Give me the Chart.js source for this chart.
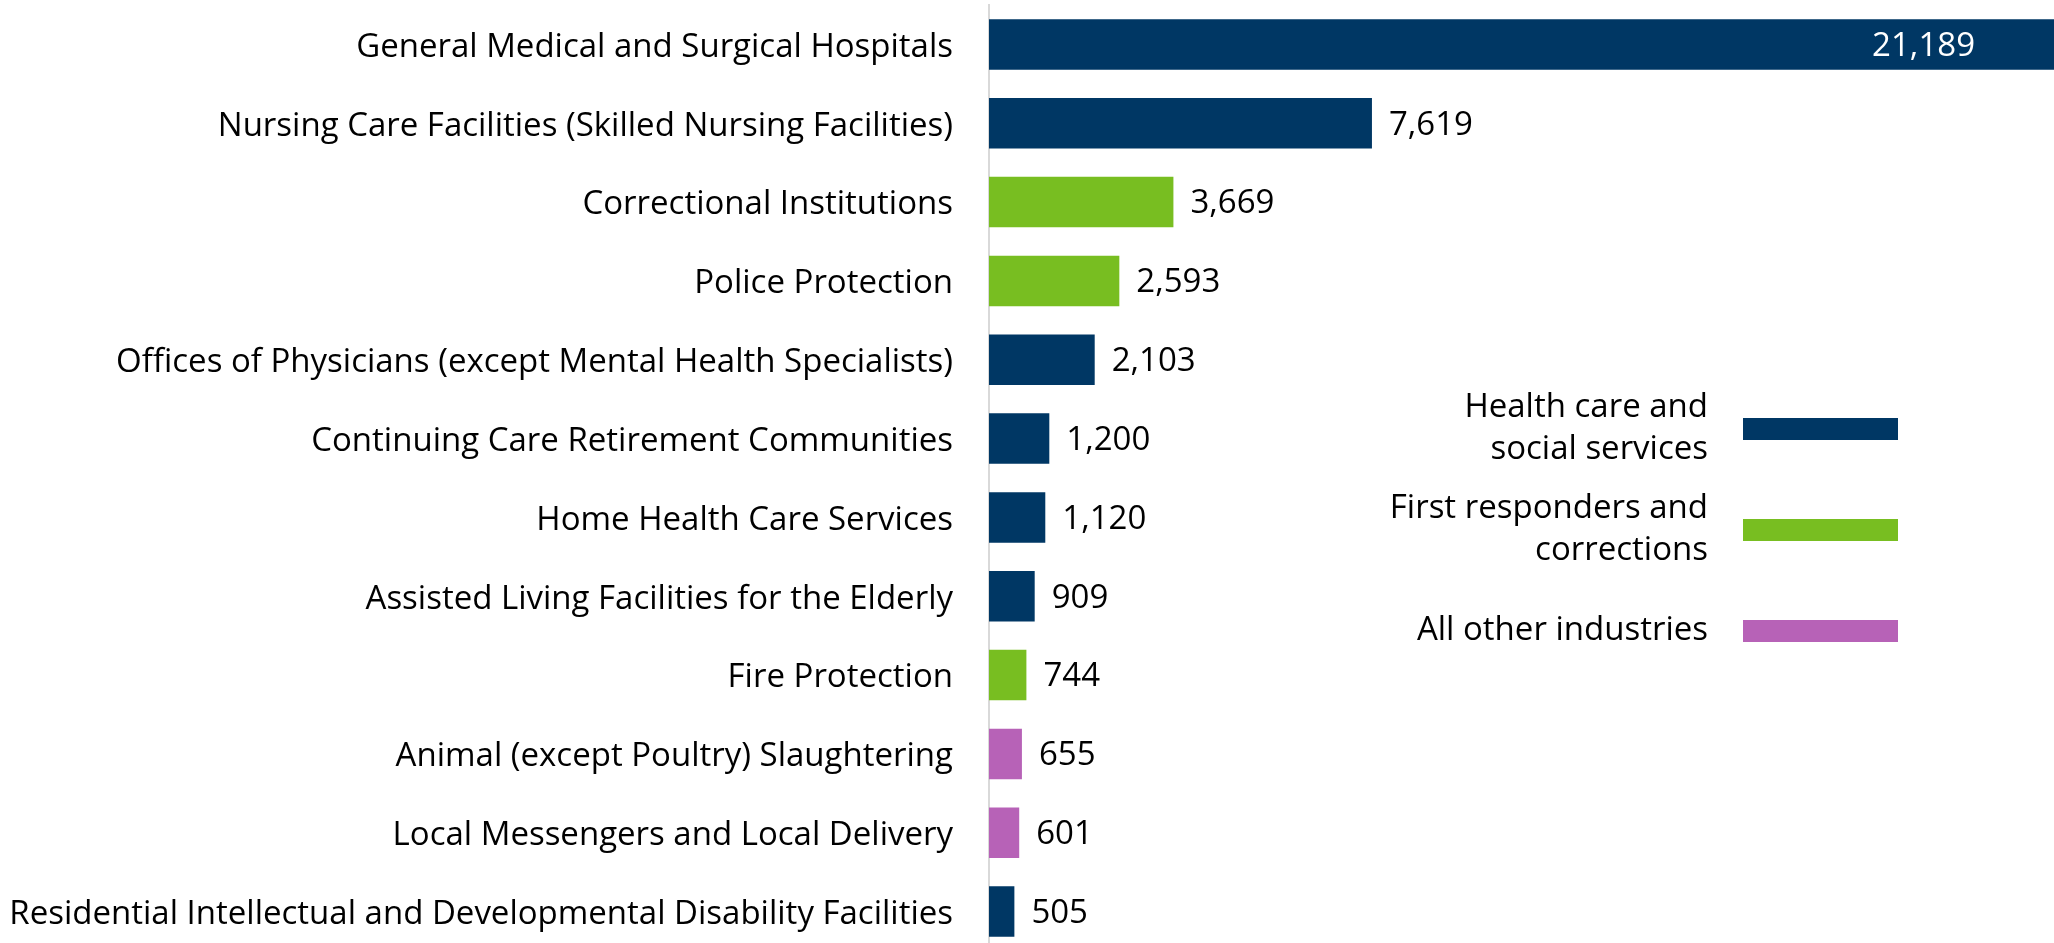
<!DOCTYPE html>
<html>
<head>
<meta charset="utf-8">
<script src="https://cdn.jsdelivr.net/npm/chart.js@4/dist/chart.umd.min.js"></script>
<style>
  html, body { margin: 0; padding: 0; background: #ffffff; overflow: hidden; }
  canvas { display: block; }
</style>
</head>
<body>
<canvas id="industryChart" width="2054" height="951"></canvas>
<script>
// Data
const categories = [
    'General Medical and Surgical Hospitals',
    'Nursing Care Facilities (Skilled Nursing Facilities)',
    'Correctional Institutions',
    'Police Protection',
    'Offices of Physicians (except Mental Health Specialists)',
    'Continuing Care Retirement Communities',
    'Home Health Care Services',
    'Assisted Living Facilities for the Elderly',
    'Fire Protection',
    'Animal (except Poultry) Slaughtering',
    'Local Messengers and Local Delivery',
    'Residential Intellectual and Developmental Disability Facilities'
];
const values = [21189, 7619, 3669, 2593, 2103, 1200, 1120, 909, 744, 655, 601, 505];
const groups = ['health', 'health', 'first', 'first', 'health', 'health', 'health', 'health', 'first', 'other', 'other', 'health'];
const groupKeys = ['health', 'first', 'other'];
const groupLabels = [['Health care and', 'social services'], ['First responders and', 'corrections'], ['All other industries']];

const groupColors = { health: '#003764', first: '#78BE21', other: '#B762B7' };
const fontFamily = "'Open Sans', 'Noto Sans', sans-serif";
const fontSize = 33;

// value labels at the end of each bar
const valueLabels = {
    id: 'valueLabels',
    afterDatasetsDraw(chart) {
        const ctx = chart.ctx;
        const meta = chart.getDatasetMeta(0);
        ctx.save();
        ctx.font = fontSize + 'px ' + fontFamily;
        ctx.textBaseline = 'middle';
        meta.data.forEach((bar, i) => {
            const text = values[i].toLocaleString('en-US');
            const w = ctx.measureText(text).width;
            if (bar.x + 17 + w > chart.chartArea.right) {
                ctx.fillStyle = '#ffffff';
                ctx.textAlign = 'right';
                ctx.fillText(text, bar.x - 79, bar.y + 2);
            } else {
                ctx.fillStyle = '#000000';
                ctx.textAlign = 'left';
                ctx.fillText(text, bar.x + 17, bar.y + 2);
            }
        });
        ctx.restore();
    }
};

// legend: text right-aligned, colour bar to its right
const sideLegend = {
    id: 'sideLegend',
    afterDraw(chart) {
        const ctx = chart.ctx;
        ctx.save();
        ctx.font = fontSize + 'px ' + fontFamily;
        ctx.textBaseline = 'middle';
        ctx.textAlign = 'right';
        groupKeys.forEach((key, i) => {
            const cy = 429 + i * 101;
            ctx.fillStyle = groupColors[key];
            ctx.fillRect(1743, cy - 11, 155, 22);
            const lines = groupLabels[i];
            const lh = 42;
            const top = cy - (lines.length - 1) * lh / 2;
            ctx.fillStyle = '#000000';
            lines.forEach((line, j) => ctx.fillText(line, 1708, top + j * lh));
        });
        ctx.restore();
    }
};

new Chart(document.getElementById('industryChart').getContext('2d'), {
    type: 'bar',
    data: {
        labels: categories,
        datasets: [{
            data: values,
            backgroundColor: groups.map(g => groupColors[g]),
            borderWidth: 0,
            categoryPercentage: 1,
            barPercentage: 0.641
        }]
    },
    options: {
        indexAxis: 'y',
        responsive: false,
        animation: false,
        layout: { padding: { top: 5, right: 0, bottom: 0, left: 0 } },
        plugins: {
            legend: { display: false },
            tooltip: { enabled: false }
        },
        scales: {
            x: { display: false, min: 0, max: Math.max(...values) },
            y: {
                grid: { display: false, drawTicks: false },
                border: { display: true, color: '#D9D9D9', width: 2 },
                ticks: { color: '#000000', padding: 36, labelOffset: 3, font: { family: fontFamily, size: fontSize } },
                afterFit(scale) {
                    scale.width = 989;
                    scale.paddingTop = 0;
                    scale.paddingBottom = 0;
                }
            }
        }
    },
    plugins: [valueLabels, sideLegend]
});
</script>
</body>
</html>
